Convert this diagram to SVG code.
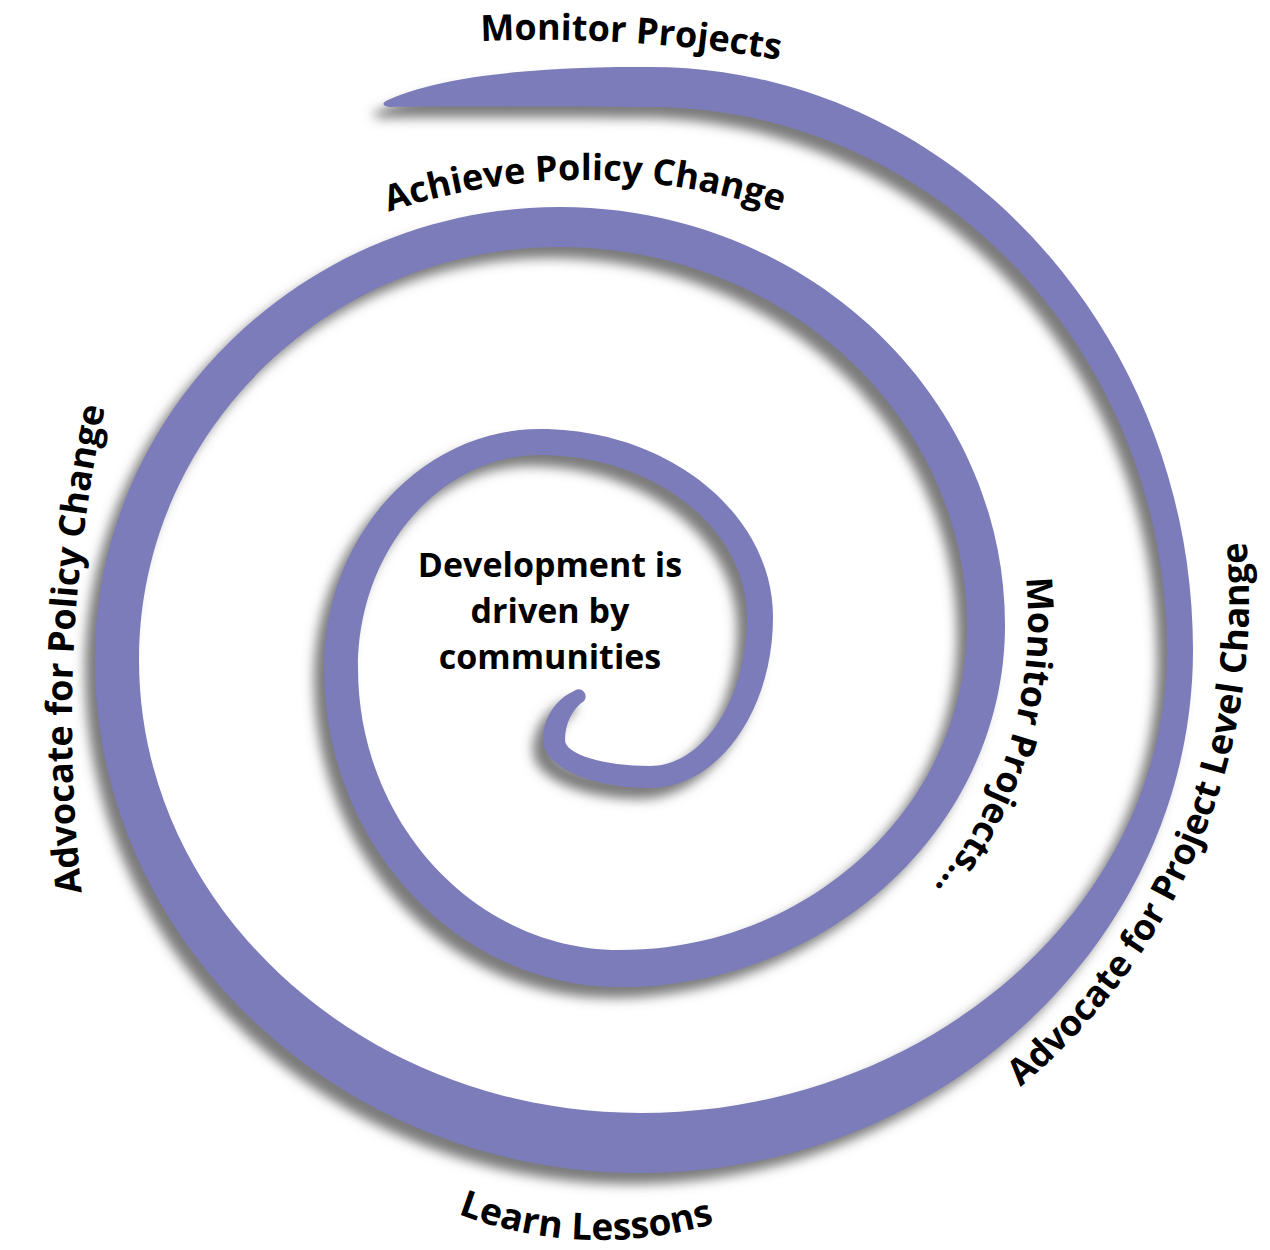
<svg xmlns="http://www.w3.org/2000/svg" width="1270" height="1250" viewBox="0 0 1270 1250">
  <style>
    .band { fill: #7b7bba; }
    .label { font-family: "Open Sans", "Liberation Sans", sans-serif; font-weight: 700; font-size: 36px; fill: #000; }
    .core { font-family: "Open Sans", "Liberation Sans", sans-serif; font-weight: 700; font-size: 34px; fill: #000; text-anchor: middle; }
  </style>
  <defs>
    <filter id="shade" filterUnits="userSpaceOnUse" x="0" y="0" width="1270" height="1250">
      <feDropShadow dx="-10" dy="11" stdDeviation="6" flood-color="#737373" flood-opacity="0.95"/>
    </filter>
    <!-- baselines for the curved captions -->
    <path id="arcMonitorTop" d="M 450,42.8 A 1440 1440 0 0 1 810,65.3"/>
    <path id="arcAchieve" d="M 321,238.6 A 625 625 0 0 1 849,238.6"/>
    <path id="arcAdvocatePolicy" d="M 84.6,915 A 1500 1500 0 0 1 110,385"/>
    <path id="arcMonitorRight" d="M 1026,578 A 428 428 0 0 1 710.8,1033.4"/>
    <path id="arcAdvocateProject" d="M 932.5,1148.2 A 633 633 0 0 0 1227.4,436.2"/>
    <path id="arcLearn" d="M 370.6,1167.7 A 400 400 0 0 0 829.4,1167.7"/>
  </defs>

  <rect width="1270" height="1250" fill="#ffffff"/>

  <!-- tapered spiral band: outer edge from the centre outwards, inner edge back -->
  <g id="spiral" filter="url(#shade)">
    <path class="band" d="M 574,691
      C 556,699 543,718 543,740
      C 543,766.4 591.1,788 650,788
      C 717.7,788 773,711.1 773,617
      C 773,513.6 668.2,429 540,429
      C 421.2,429 324,536.6 324,668
      C 324,843.5 457.2,987 620,987
      C 831.8,987 1005,824.1 1005,625
      C 1005,395.1 804.8,207 560,207
      C 304.3,207 95,410.9 95,660
      C 95,942.2 340.3,1173 640,1173
      C 944.2,1173 1193,937.7 1193,650
      C 1193,329.4 948.7,67 650,67
      C 540,66 440,76 388,100
      Q 378,105 390,107
      C 450,106 560,107 650,107
      C 934.4,107 1167,351.3 1167,650
      C 1167,904.7 929.9,1113 640,1113
      C 364.5,1113 139,909.2 139,660
      C 139,432.9 328.5,247 560,247
      C 783.9,247 967,417.1 967,625
      C 967,803.8 810.9,950 620,950
      C 475.9,950 358,823.1 358,668
      C 358,550.9 439.9,455 540,455
      C 653.9,455 747,527.9 747,617
      C 747,699 703.4,766 650,766
      C 603.3,766 565,754.3 565,740
      C 565,724 572,709 584,701
      A 7.1 7.1 0 0 0 574,691 Z"/>
  </g>

  <g id="centre-text">
    <text class="core" x="550" y="577">Development is</text>
    <text class="core" x="550" y="623">driven by</text>
    <text class="core" x="550" y="669">communities</text>
  </g>

  <g id="label-monitor-top">
    <text class="label"><textPath href="#arcMonitorTop" startOffset="50%" text-anchor="middle">Monitor Projects</textPath></text>
  </g>
  <g id="label-achieve">
    <text class="label"><textPath href="#arcAchieve" startOffset="50%" text-anchor="middle">Achieve Policy Change</textPath></text>
  </g>
  <g id="label-advocate-policy">
    <text class="label"><textPath href="#arcAdvocatePolicy" startOffset="50%" text-anchor="middle">Advocate for Policy Change</textPath></text>
  </g>
  <g id="label-monitor-right">
    <text class="label"><textPath href="#arcMonitorRight" startOffset="0">Monitor Projects...</textPath></text>
  </g>
  <g id="label-advocate-project">
    <text class="label"><textPath href="#arcAdvocateProject" startOffset="50%" text-anchor="middle">Advocate for Project Level Change</textPath></text>
  </g>
  <g id="label-learn">
    <text class="label" style="font-size:37px"><textPath href="#arcLearn" startOffset="47%" text-anchor="middle">Learn Lessons</textPath></text>
  </g>
</svg>
